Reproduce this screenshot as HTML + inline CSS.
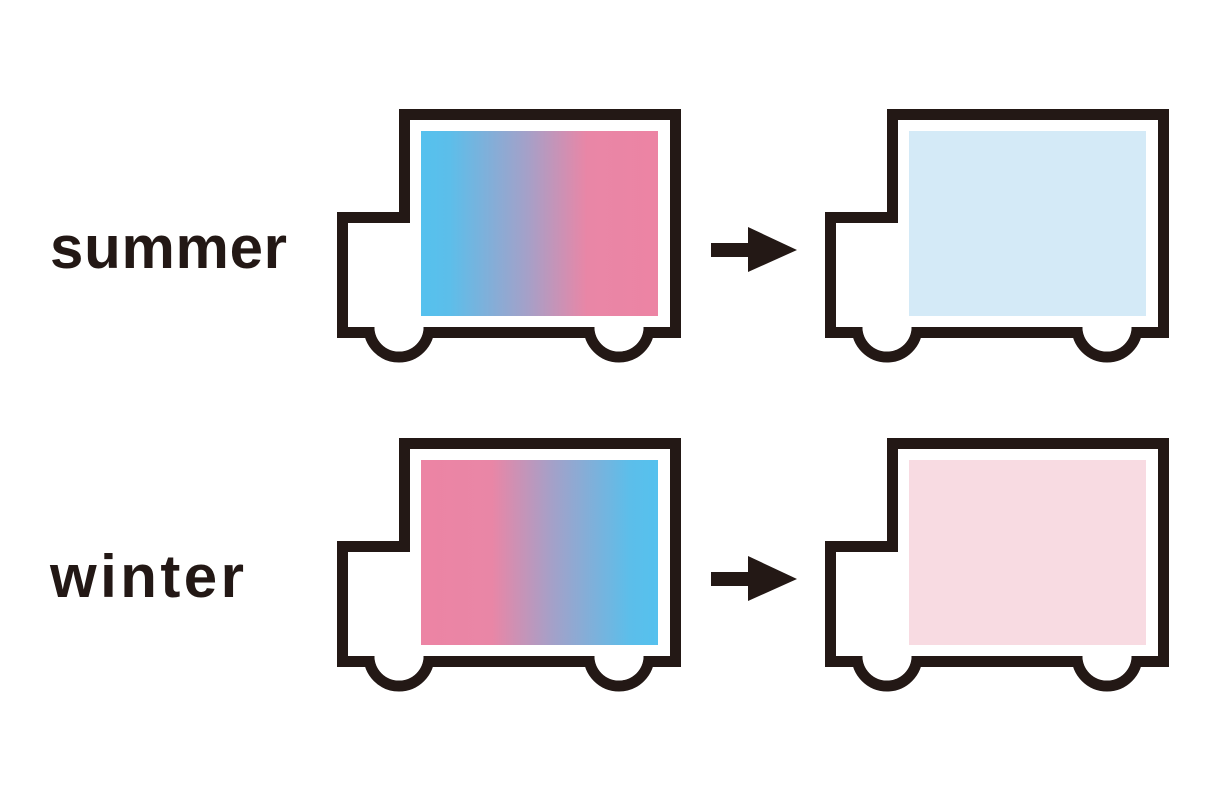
<!DOCTYPE html>
<html><head><meta charset="utf-8"><style>html,body{margin:0;padding:0;background:#fff}svg{display:block}</style></head>
<body>
<svg width="1218" height="800" viewBox="0 0 1218 800" xmlns="http://www.w3.org/2000/svg">
<defs>
<linearGradient id="gs" x1="0" x2="1" y1="0" y2="0">
<stop offset="0" stop-color="#55c1ee"/><stop offset="0.12" stop-color="#5cbeea"/>
<stop offset="0.45" stop-color="#a5a0c8"/><stop offset="0.7" stop-color="#e986a6"/><stop offset="1" stop-color="#ec84a4"/>
</linearGradient>
<linearGradient id="gw" x1="1" x2="0" y1="0" y2="0">
<stop offset="0" stop-color="#55c1ee"/><stop offset="0.12" stop-color="#5cbeea"/>
<stop offset="0.45" stop-color="#a5a0c8"/><stop offset="0.7" stop-color="#e986a6"/><stop offset="1" stop-color="#ec84a4"/>
</linearGradient>
<clipPath id="below"><rect x="0" y="327" width="800" height="100"/></clipPath>
<g id="truck">
<path d="M404.5 217.5 V114.5 H675.5 V332.5 H342.5 V217.5 Z" fill="#fff" stroke="#231815" stroke-width="11"/>
<g clip-path="url(#below)">
<circle cx="399" cy="327" r="30" fill="#fff" stroke="#231815" stroke-width="11"/>
<circle cx="619" cy="327" r="30" fill="#fff" stroke="#231815" stroke-width="11"/>
</g>
<circle cx="399" cy="327" r="24.5" fill="#fff"/>
<circle cx="619" cy="327" r="24.5" fill="#fff"/>
</g>
<g id="arrow"><rect x="711" y="243" width="40" height="14" fill="#231815"/><polygon points="748,227 797,250 748,272" fill="#231815"/></g>
</defs>
<use href="#truck"/>
<rect x="421" y="131" width="237" height="185" fill="url(#gs)"/>
<use href="#arrow"/>
<use href="#truck" x="488"/>
<rect x="909" y="131" width="237" height="185" fill="#d4eaf7"/>
<use href="#truck" y="329"/>
<rect x="421" y="460" width="237" height="185" fill="url(#gw)"/>
<use href="#arrow" y="329"/>
<use href="#truck" x="488" y="329"/>
<rect x="909" y="460" width="237" height="185" fill="#f8dbe2"/>
<text x="50" y="268" font-family="Liberation Sans, sans-serif" font-weight="bold" font-size="60" fill="#231815" textLength="237" lengthAdjust="spacing">summer</text>
<text x="50" y="597" font-family="Liberation Sans, sans-serif" font-weight="bold" font-size="60" fill="#231815" textLength="194" lengthAdjust="spacing">winter</text>
</svg>
</body></html>
